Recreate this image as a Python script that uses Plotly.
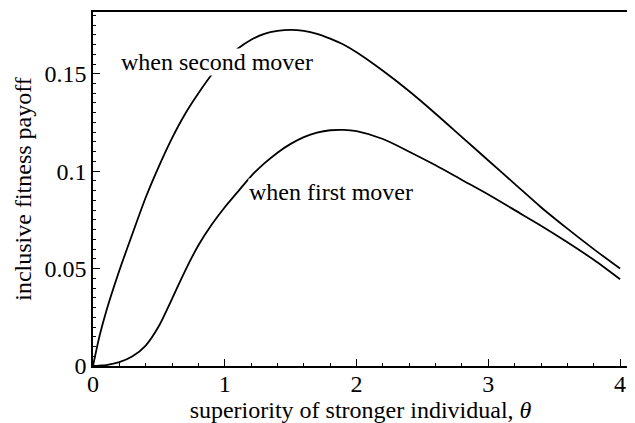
import plotly.graph_objects as go

# superiority of stronger individual (theta)
theta = [0, 0.05, 0.1, 0.2, 0.3, 0.4, 0.5, 0.6, 0.7, 0.8, 0.9, 1.0,
         1.1, 1.2, 1.3, 1.4, 1.5, 1.6, 1.7, 1.8, 1.9, 2.0,
         2.2, 2.4, 2.6, 2.8, 3.0, 3.2, 3.4, 3.6, 3.8, 4.0]

# inclusive fitness payoff
second_mover = [0, 0.0155, 0.028, 0.049, 0.068, 0.0865, 0.1025, 0.117, 0.1295, 0.140, 0.1495, 0.157,
                0.163, 0.1675, 0.1705, 0.172, 0.1725, 0.172, 0.1705, 0.168, 0.165, 0.161,
                0.1515, 0.141, 0.1295, 0.1175, 0.1055, 0.0935, 0.0815, 0.0705, 0.060, 0.050]
first_mover = [0, 0.0002, 0.0005, 0.002, 0.005, 0.0105, 0.0205, 0.0345, 0.049, 0.062, 0.0725, 0.0815,
               0.0895, 0.0975, 0.104, 0.1095, 0.114, 0.1175, 0.1198, 0.121, 0.1212, 0.1205,
               0.1165, 0.110, 0.103, 0.0955, 0.088, 0.080, 0.072, 0.0635, 0.0545, 0.0445]

FONT = "Liberation Serif, Times New Roman, serif"
TXT = dict(family=FONT, size=24, color="black")

fig = go.Figure()
for ys in (second_mover, first_mover):
    fig.add_trace(go.Scatter(
        x=theta, y=ys, mode="lines",
        line=dict(color="black", width=1.8, shape="spline", smoothing=0.8),
        showlegend=False,
    ))

# curve labels sit on a white box that hides the line behind them
fig.add_annotation(x=0.94, y=0.156, text="when second mover", showarrow=False,
                   bgcolor="white", borderpad=0, font=TXT)
fig.add_annotation(x=1.805, y=0.0893, text="when first mover", showarrow=False,
                   bgcolor="white", borderpad=0, font=TXT)

axis_common = dict(
    showgrid=False, zeroline=False, automargin=False,
    showline=True, linecolor="black", linewidth=1.5, mirror=True,
    ticks="inside", ticklen=7, tickwidth=1, tickcolor="black",
    tickfont=TXT,
)

fig.update_xaxes(
    range=[0, 4.06], tick0=0, dtick=1, ticklabelstandoff=-5,
    minor=dict(dtick=0.2, ticks="inside", ticklen=3, tickcolor="black"),
    title=dict(text="superiority of stronger individual, <i>θ</i>", font=TXT, standoff=0),
    **axis_common,
)
fig.update_yaxes(
    range=[0, 0.1817], tick0=0, dtick=0.05,
    minor=dict(dtick=0.005, ticks="inside", ticklen=3, tickcolor="black"),
    title=dict(text="inclusive fitness payoff", font=TXT, standoff=6),
    **axis_common,
)

# the page body adds an 8px offset, so the figure is 8px smaller than the window
fig.update_layout(
    width=627, height=415,
    margin=dict(l=85, r=7, t=4, b=57),
    plot_bgcolor="white", paper_bgcolor="white",
    font=dict(family=FONT, color="black"),
)

fig.write_html("out.html")
